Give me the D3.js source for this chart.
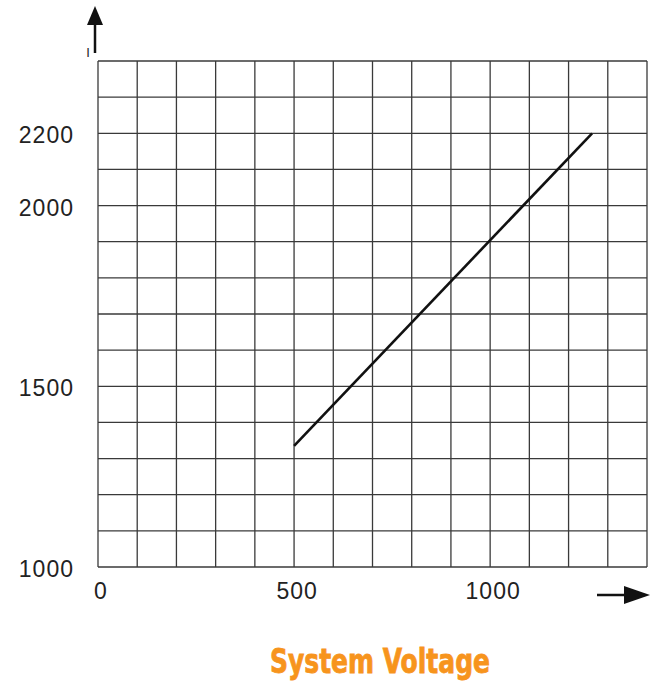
<!DOCTYPE html>
<html>
<head>
<meta charset="utf-8">
<script src="https://cdn.jsdelivr.net/npm/d3@7"></script>
<style>
  html, body { margin: 0; padding: 0; background: #fff; }
  svg { display: block; }
</style>
</head>
<body>
<svg id="chart" width="656" height="683"></svg>
<script>
// ---- data ----
const xDomain = [0, 1400];
const yDomain = [1000, 2400];
const gridStep = 100;
const xTickLabels = [0, 500, 1000];
const yTickLabels = [1000, 1500, 2000, 2200];
const lineX = [500, 1260];
const lineY = [1335, 2200];
const xTitle = "System Voltage";
const yTitle = "I";

(function () {
// ---- layout ----
const svg = d3.select("#chart");
const pLeft = 98, pRight = 647, pTop = 61, pBottom = 567;
const x = d3.scaleLinear().domain(xDomain).range([pLeft, pRight]);
const y = d3.scaleLinear().domain(yDomain).range([pBottom, pTop]);

const gridColor = "#3a3a3a";
const xs = d3.range(xDomain[0], xDomain[1] + 1, gridStep);
const ys = d3.range(yDomain[0], yDomain[1] + 1, gridStep);

svg.append("g").selectAll("line").data(xs).join("line")
  .attr("x1", d => x(d)).attr("x2", d => x(d))
  .attr("y1", pTop).attr("y2", pBottom)
  .attr("stroke", gridColor).attr("stroke-width", 1.3);

svg.append("g").selectAll("line").data(ys).join("line")
  .attr("y1", d => y(d)).attr("y2", d => y(d))
  .attr("x1", pLeft).attr("x2", pRight)
  .attr("stroke", gridColor).attr("stroke-width", 1.3);

// tick labels
const font = "'Liberation Sans', Arial, sans-serif";
svg.append("g").selectAll("text").data(yTickLabels).join("text")
  .attr("x", 74).attr("y", d => y(d) + 4)
  .attr("text-anchor", "end").attr("dominant-baseline", "middle")
  .attr("font-family", font).attr("font-size", 23)
  .attr("letter-spacing", 1)
  .attr("fill", "#222").text(d => d);

svg.append("g").selectAll("text").data(xTickLabels).join("text")
  .attr("x", d => x(d) + 3).attr("y", 593)
  .attr("text-anchor", "middle").attr("dominant-baseline", "middle")
  .attr("font-family", font).attr("font-size", 23)
  .attr("letter-spacing", 1)
  .attr("fill", "#222").text(d => d);

// data line
const pts = lineX.map((v, i) => [v, lineY[i]]);
svg.append("path").datum(pts)
  .attr("d", d3.line().x(d => x(d[0])).y(d => y(d[1])))
  .attr("fill", "none").attr("stroke", "#111").attr("stroke-width", 2.6);

// up arrow
svg.append("line").attr("x1", 95).attr("x2", 95).attr("y1", 53).attr("y2", 20)
  .attr("stroke", "#111").attr("stroke-width", 2.5);
svg.append("path").attr("d", "M95,6 L103,25 L87,25 Z").attr("fill", "#111");

// right arrow
svg.append("line").attr("x1", 597).attr("x2", 630).attr("y1", 595).attr("y2", 595)
  .attr("stroke", "#111").attr("stroke-width", 2.5);
svg.append("path").attr("d", "M650,595 L624,586 L624,604 Z").attr("fill", "#111");

// y title
svg.append("text").attr("x", 88).attr("y", 57)
  .attr("text-anchor", "middle")
  .attr("font-family", font).attr("font-size", 13)
  .attr("fill", "#222").text(yTitle);

// x title
svg.append("text").attr("x", 380).attr("y", 673)
  .attr("text-anchor", "middle")
  .attr("font-family", "'Liberation Sans Narrow', 'DejaVu Sans Condensed', 'Liberation Sans', Arial, sans-serif")
  .attr("font-weight", "bold").attr("font-size", 33)
  .attr("textLength", 220).attr("lengthAdjust", "spacingAndGlyphs")
  .attr("fill", "#F7941D").attr("stroke", "#F7941D").attr("stroke-width", 0.8)
  .text(xTitle);
})();
</script>
</body>
</html>
